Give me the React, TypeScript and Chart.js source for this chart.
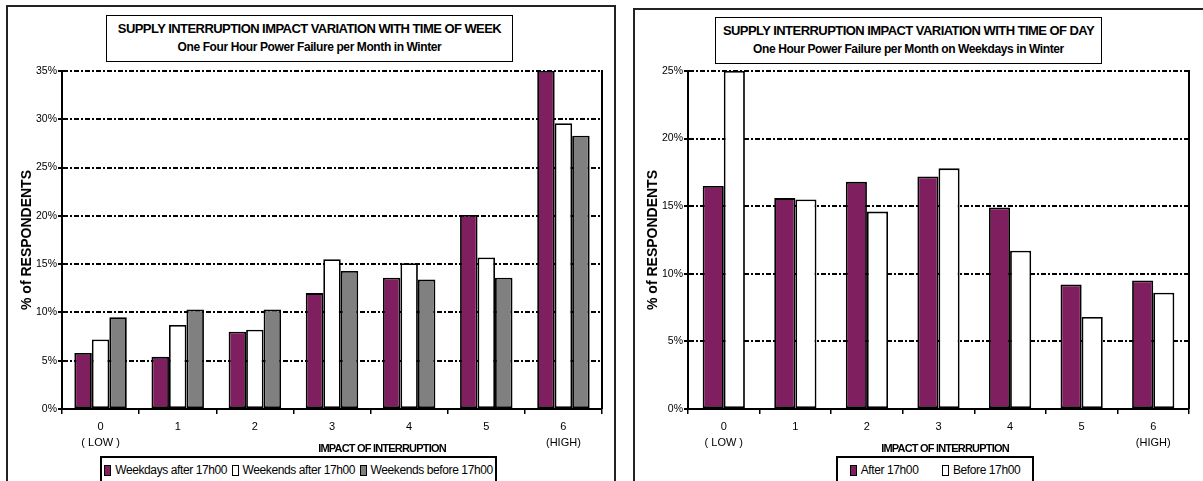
import React, { useEffect, useRef } from "react";
import { Chart, registerables } from "chart.js";

Chart.register(...registerables);

// ---------- data ----------
const impactLabels: string[][] = [["0", "( LOW )"], ["1"], ["2"], ["3"], ["4"], ["5"], ["6", "(HIGH)"]];

const weekdaysAfter17 = [5.8, 5.4, 8.0, 12.0, 13.6, 20.1, 35.0];
const weekendsAfter17 = [7.2, 8.7, 8.2, 15.5, 15.1, 15.7, 29.6];
const weekendsBefore17 = [9.5, 10.3, 10.3, 14.3, 13.4, 13.6, 28.3];

const dayAfter17 = [16.5, 15.6, 16.8, 17.2, 14.9, 9.2, 9.5];
const dayBefore17 = [25.0, 15.5, 14.6, 17.8, 11.7, 6.8, 8.6];

const weekTitle = ["SUPPLY INTERRUPTION IMPACT VARIATION WITH TIME OF WEEK", "One Four Hour Power Failure per Month in Winter"];
const dayTitle = ["SUPPLY INTERRUPTION IMPACT VARIATION WITH TIME OF DAY", "One Hour Power Failure per Month on Weekdays in Winter"];
const weekLegend = ["Weekdays after 17h00", "Weekends after 17h00", "Weekends before 17h00"];
const dayLegend = ["After 17h00", "Before 17h00"];
const yTitle = "% of  RESPONDENTS";
const xTitle = "IMPACT OF INTERRUPTION";

const PURPLE = "#7f1f5f";
const WHITE = "#ffffff";
const GRAY = "#808080";
const FONT = "'Liberation Sans', Arial, sans-serif";

const rightBorderPlugin = {
  id: "rightBorder",
  afterDatasetsDraw(chart: any) {
    const { ctx, chartArea } = chart;
    ctx.save();
    ctx.strokeStyle = "#000";
    ctx.lineWidth = 2;
    ctx.beginPath();
    ctx.moveTo(chartArea.right, chartArea.top - 1);
    ctx.lineTo(chartArea.right, chartArea.bottom);
    ctx.stroke();
    ctx.restore();
  },
};

type PanelProps = {
  left: number;
  width: number;
  yAxisWidth: number;
  padRight: number;
  max: number;
  catPct: number;
  series: { label: string; data: number[]; color: string }[];
};

function BarPanel(p: PanelProps) {
  const ref = useRef<HTMLCanvasElement | null>(null);
  useEffect(() => {
    if (!ref.current) return;
    const chart = new Chart(ref.current, {
      type: "bar",
      data: {
        labels: impactLabels,
        datasets: p.series.map((s) => ({
          label: s.label,
          data: s.data,
          backgroundColor: s.color,
          borderColor: "#000",
          borderWidth: 1.8,
          borderSkipped: false,
          categoryPercentage: p.catPct,
          barPercentage: 1,
        })),
      },
      options: {
        animation: false,
        responsive: false,
        devicePixelRatio: 1,
        layout: { padding: { top: 71, right: p.padRight, left: 0, bottom: 0 } },
        plugins: { legend: { display: false }, title: { display: false }, tooltip: { enabled: false } },
        scales: {
          x: {
            afterFit: (s: any) => {
              s.height = 72;
            },
            grid: {
              offset: true,
              drawOnChartArea: false,
              drawTicks: true,
              tickLength: 5,
              color: "#000",
              lineWidth: 1.5,
            },
            border: { display: true, color: "#000", width: 2 },
            ticks: {
              color: "#000",
              padding: 5,
              font: { family: FONT, size: 11, lineHeight: 1.45 },
              maxRotation: 0,
              autoSkip: false,
            },
          },
          y: {
            min: 0,
            max: p.max,
            afterFit: (s: any) => {
              s.width = p.yAxisWidth;
            },
            grid: {
              color: "#000",
              lineWidth: 2,
              drawTicks: true,
              tickLength: 4,
            },
            border: { display: true, color: "#000", width: 2, dash: [5, 2, 2, 2] },
            ticks: {
              stepSize: 5,
              color: "#000",
              padding: 1,
              font: { family: FONT, size: 10.5 },
              callback: (v: any) => `${v}%`,
            },
          },
        },
      },
      plugins: [rightBorderPlugin],
    } as any);
    return () => chart.destroy();
  }, []);
  return (
    <canvas
      ref={ref}
      width={p.width}
      height={481}
      style={{ position: "absolute", left: p.left, top: 0, width: p.width, height: 481 }}
    />
  );
}

const txt: React.CSSProperties = { position: "absolute", fontFamily: FONT, color: "#000", whiteSpace: "nowrap" };

function TitleBox({ left, top, width, lines }: { left: number; top: number; width: number; lines: string[] }) {
  return (
    <div
      style={{
        position: "absolute",
        left,
        top,
        width,
        height: 47,
        boxSizing: "border-box",
        border: "1.5px solid #000",
        background: "#fff",
        fontFamily: FONT,
        fontWeight: "bold",
        textAlign: "center",
        lineHeight: "19px",
        paddingTop: 3,
        whiteSpace: "nowrap",
      }}
    >
      <div style={{ fontSize: 13, letterSpacing: "-0.55px" }}>{lines[0]}</div>
      <div style={{ fontSize: 12, letterSpacing: "-0.4px" }}>{lines[1]}</div>
    </div>
  );
}

function Legend({ left, width, items }: { left: number; width: number; items: { label: string; color: string }[] }) {
  return (
    <div
      style={{
        position: "absolute",
        left,
        top: 456,
        width,
        height: 30,
        boxSizing: "border-box",
        border: "2px solid #000",
        background: "#fff",
        display: "flex",
        justifyContent: "space-around",
        alignItems: "flex-start",
        paddingTop: 5,
        fontFamily: FONT,
        fontSize: 12,
        letterSpacing: "-0.4px",
      }}
    >
      {items.map((it) => (
        <div key={it.label} style={{ display: "flex", alignItems: "center", whiteSpace: "nowrap" }}>
          <span
            style={{
              display: "inline-block",
              width: 5,
              height: 9,
              border: "1px solid #000",
              background: it.color,
              marginRight: 4,
            }}
          />
          <span>{it.label}</span>
        </div>
      ))}
    </div>
  );
}

function YTitle({ x, y }: { x: number; y: number }) {
  return (
    <div
      style={{
        ...txt,
        left: x,
        top: y,
        fontSize: 14,
        fontWeight: "bold",
        transform: "translate(-50%, -50%) rotate(-90deg)",
      }}
    >
      {yTitle}
    </div>
  );
}

function XTitle({ x, y }: { x: number; y: number }) {
  return (
    <div
      style={{
        ...txt,
        left: x,
        top: y,
        fontSize: 11,
        fontWeight: "bold",
        transform: "translate(-50%, -50%)",
        letterSpacing: "-0.8px",
      }}
    >
      {xTitle}
    </div>
  );
}

export default function App() {
  return (
    <div
      style={{
        position: "fixed",
        left: 0,
        top: 0,
        width: 1203,
        height: 481,
        overflow: "hidden",
        background: "#fff",
      }}
    >
      {/* panel frames */}
      <div style={{ position: "absolute", left: 6, top: 5, width: 610, height: 520, boxSizing: "border-box", border: "2px solid #222" }} />
      <div style={{ position: "absolute", left: 633, top: 8, width: 620, height: 520, boxSizing: "border-box", border: "2px solid #222" }} />

      <BarPanel
        left={0}
        width={620}
        yAxisWidth={62}
        padRight={18}
        max={35}
        catPct={0.68}
        series={[
          { label: weekLegend[0], data: weekdaysAfter17, color: PURPLE },
          { label: weekLegend[1], data: weekendsAfter17, color: WHITE },
          { label: weekLegend[2], data: weekendsBefore17, color: GRAY },
        ]}
      />
      <BarPanel
        left={620}
        width={583}
        yAxisWidth={68}
        padRight={14}
        max={25}
        catPct={0.59}
        series={[
          { label: dayLegend[0], data: dayAfter17, color: PURPLE },
          { label: dayLegend[1], data: dayBefore17, color: WHITE },
        ]}
      />

      <TitleBox left={106} top={15} width={407} lines={weekTitle} />
      <TitleBox left={715} top={17} width={387} lines={dayTitle} />

      <YTitle x={26} y={240} />
      <YTitle x={652} y={240} />

      <XTitle x={382} y={448} />
      <XTitle x={945} y={448} />

      <Legend
        left={100}
        width={397}
        items={[
          { label: weekLegend[0], color: PURPLE },
          { label: weekLegend[1], color: WHITE },
          { label: weekLegend[2], color: GRAY },
        ]}
      />
      <Legend
        left={836}
        width={198}
        items={[
          { label: dayLegend[0], color: PURPLE },
          { label: dayLegend[1], color: WHITE },
        ]}
      />
    </div>
  );
}
